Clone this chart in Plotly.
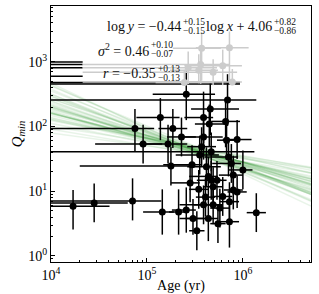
import numpy as np
import plotly.graph_objects as go

# ---- black data points (log10 age, log10 Qmin, errors in dex) ----
bx = [4.23, 4.85, 5.16, 5.33, 5.41, 5.48, 5.52, 5.64, 5.74, 5.86, 6.14, 5.25, 5.47, 5.45, 5.55,
      5.54, 5.61, 5.69, 5.67, 5.76, 5.79, 5.94, 6.00, 5.86, 5.90, 5.88, 5.85, 5.62, 5.64, 5.73,
      5.69, 5.90, 5.59, 4.875, 4.96, 5.14, 5.22, 5.27, 5.36, 5.41, 5.59, 5.65, 5.84, 5.82, 5.94,
      5.83, 5.66, 5.59, 5.67, 5.57, 4.45]
by = [0.77, 0.85, 0.68, 0.68, 0.71, 0.58, 0.39, 0.58, 0.50, 0.53, 0.67, 1.39, 1.41, 1.13, 1.56,
      1.03, 0.91, 0.79, 1.17, 0.74, 0.92, 0.99, 1.33, 0.84, 1.25, 1.43, 1.53, 1.38, 1.23, 1.17,
      1.07, 1.02, 0.79, 1.97, 1.73, 2.14, 1.73, 1.97, 1.84, 2.50, 1.84, 2.04, 2.41, 2.08, 1.80,
      1.79, 2.27, 2.14, 1.61, 1.69, 0.82]
bxm = [0.60, 0.90, 0.20, 0.10, 0.15, 0.08, 0.08, 0.30, 0.08, 0.10, 0.10, 0.95, 0.30, 0.20, 0.25,
       0.10, 0.10, 0.20, 0.15, 0.10, 0.10, 0.10, 0.15, 0.10, 0.15, 0.20, 0.25, 0.20, 0.20, 0.10,
       0.10, 0.10, 0.25, 0.90, 0.50, 0.25, 0.30, 0.15, 0.15, 0.35, 0.20, 0.15, 2.00, 0.15, 0.15,
       0.10, 0.20, 0.20, 2.00, 0.15, 0.70]
bxp = [0.38, 0.30, 0.12, 0.10, 0.10, 0.12, 0.08, 0.10, 0.08, 0.10, 0.10, 0.20, 0.10, 0.10, 0.20,
       0.10, 0.10, 0.10, 0.10, 0.10, 0.10, 0.10, 0.10, 0.10, 0.10, 0.10, 0.10, 0.15, 0.10, 0.10,
       0.10, 0.10, 0.20, 0.20, 0.20, 0.20, 0.20, 0.15, 0.15, 0.30, 0.20, 0.20, 0.30, 0.15, 0.15,
       0.10, 0.30, 0.10, 0.45, 0.15, 0.35]
bym = [0.36, 0.30, 0.35, 0.35, 0.35, 0.25, 0.30, 0.35, 0.30, 0.40, 0.30, 0.30, 0.30, 0.30, 0.30,
       0.30, 0.30, 0.30, 0.30, 0.30, 0.30, 0.25, 0.30, 0.30, 0.30, 0.30, 0.30, 0.30, 0.30, 0.30,
       0.30, 0.30, 0.30, 0.35, 0.30, 0.35, 0.30, 0.30, 0.30, 0.40, 0.35, 0.35, 0.40, 0.40, 0.30,
       0.30, 0.40, 0.40, 0.30, 0.30, 0.30]
byp = [0.25, 0.35, 0.35, 0.35, 0.35, 0.30, 0.30, 0.35, 0.30, 0.40, 0.30, 0.30, 0.30, 0.30, 0.30,
       0.30, 0.30, 0.30, 0.30, 0.30, 0.30, 0.25, 0.30, 0.30, 0.30, 0.30, 0.30, 0.30, 0.30, 0.30,
       0.30, 0.30, 0.30, 0.30, 0.30, 0.30, 0.30, 0.30, 0.30, 0.35, 0.30, 0.30, 0.40, 0.30, 0.30,
       0.30, 0.40, 0.40, 0.30, 0.30, 0.30]

# ---- grey (limit) points ----
gx = [5.57, 5.86, 5.56, 5.43, 5.69, 5.79, 5.89, 5.39, 5.54]
gy = [3.21, 3.22, 2.96, 2.91, 2.84, 2.94, 2.69, 2.68, 2.87]
gxm = [0.30, 0.35, 1.23, 1.10, 1.36, 0.40, 1.56, 0.30, 0.30]
gxp = [0.20, 0.20, 0.30, 0.30, 0.25, 0.20, 0.10, 0.30, 0.20]
gym = [0.50, 0.50, 0.30, 0.25, 0.20, 0.30, 0.05, 0.05, 0.20]
gyp = [0.25, 0.25, 0.25, 0.25, 0.20, 0.25, 0.20, 0.20, 0.25]

# ---- black bars extending to the left edge behind the grey points ----
kx = [4.33, 4.33, 4.33, 4.33, 5.97, 5.97]
ky = [3.00, 2.96, 2.91, 2.78, 2.68, 2.66]
kxm = [1.0, 1.0, 1.0, 1.0, 2.5, 2.5]

# ---- posterior samples of the regression: log y = a log x + b ----
slopes = [-0.44, -0.30, -0.58, -0.39, -0.51, -0.25, -0.62, -0.47, -0.35, -0.41,
          -0.53, -0.29, -0.70, -0.44, -0.37, -0.49, -0.20, -0.56, -0.42, -0.33,
          -0.66, -0.45, -0.38, -0.52, -0.27, -0.60, -0.43, -0.48, -0.31, -0.55,
          -0.40, -0.46, -0.36, -0.50, -0.23, -0.64, -0.42, -0.34, -0.57, -0.45]
intercepts = [4.06, 3.25, 4.87, 3.77, 4.47, 2.96, 5.11, 4.22, 3.54, 3.91,
              4.51, 3.27, 5.47, 3.98, 3.68, 4.39, 2.70, 4.71, 3.97, 3.43,
              5.28, 4.05, 3.73, 4.48, 3.17, 4.90, 4.00, 4.23, 3.37, 4.67,
              3.81, 4.20, 3.61, 4.33, 2.92, 5.14, 3.91, 3.56, 4.78, 4.11]
xfit = [4.0, 6.71]

# ---- fit-result text pieces: (main text, superscript, subscript) ----
main_texts = ["log\u2009<i>y</i> = −0.44", "log\u2009<i>x</i> + 4.06",
              "<i>σ</i><sup>2</sup> = 0.46", "<i>r</i> = −0.35"]
sup_texts = ["+0.15", "+0.82", "+0.10", "+0.13"]
sub_texts = ["−0.15", "−0.86", "−0.07", "−0.13"]
# pixel anchors: (x end of main text, y centre of main, y sup, y sub)
anchors = [(182, 26, 22, 31), (273, 26, 22, 31),
           (150, 50, 45, 54), (157, 73, 69, 78)]

FONT = "Liberation Serif"
W, H = 319, 294
ML, MR, MT, MB = 51, 8, 6, 32
PW, PH = W - ML - MR, H - MT - MB


def px_x(p):
    return (p - ML) / PW


def px_y(p):
    return (H - MB - p) / PH


def lin(v):
    return 10.0 ** np.asarray(v, dtype=float)


fig = go.Figure()

for a, b in zip(slopes, intercepts):
    xx = np.asarray(xfit)
    fig.add_trace(go.Scatter(x=lin(xx), y=lin(a * xx + b), mode="lines",
                             line=dict(color="rgba(0,128,0,0.09)", width=1.5),
                             hoverinfo="skip", showlegend=False))

kxa, kya = lin(kx), lin(ky)
fig.add_trace(go.Scatter(
    x=kxa, y=kya, mode="markers", marker=dict(size=2, color="rgba(0,0,0,0)"),
    error_x=dict(type="data", symmetric=False, array=[0.0] * len(kx),
                 arrayminus=kxa - lin(np.array(kx) - np.array(kxm)),
                 color="black", thickness=1.5, width=0),
    showlegend=False, hoverinfo="skip"))

bxa, bya = lin(bx), lin(by)
fig.add_trace(go.Scatter(
    x=bxa, y=bya, mode="markers", marker=dict(size=7, color="black"),
    error_x=dict(type="data", symmetric=False,
                 array=lin(np.array(bx) + np.array(bxp)) - bxa,
                 arrayminus=bxa - lin(np.array(bx) - np.array(bxm)),
                 color="black", thickness=1.5, width=0),
    error_y=dict(type="data", symmetric=False,
                 array=lin(np.array(by) + np.array(byp)) - bya,
                 arrayminus=bya - lin(np.array(by) - np.array(bym)),
                 color="black", thickness=1.5, width=0),
    showlegend=False))

gxa, gya = lin(gx), lin(gy)
fig.add_trace(go.Scatter(
    x=gxa, y=gya, mode="markers", marker=dict(size=7, color="#cccccc"),
    error_x=dict(type="data", symmetric=False,
                 array=lin(np.array(gx) + np.array(gxp)) - gxa,
                 arrayminus=gxa - lin(np.array(gx) - np.array(gxm)),
                 color="#cccccc", thickness=1.5, width=0),
    error_y=dict(type="data", symmetric=False,
                 array=lin(np.array(gy) + np.array(gyp)) - gya,
                 arrayminus=gya - lin(np.array(gy) - np.array(gym)),
                 color="#cccccc", thickness=1.5, width=0),
    showlegend=False))

xmaj = [1e4, 1e5, 1e6]
ymaj = [1e0, 1e1, 1e2, 1e3]
xmin = [m * 10.0 ** d for d in range(4, 7) for m in range(2, 10)]
ymin = [m * 10.0 ** d for d in range(-1, 4) for m in range(2, 10)]

axis_common = dict(type="log", showgrid=False, zeroline=False, showline=True,
                   linecolor="black", linewidth=1, mirror=True, ticks="inside",
                   ticklen=4, tickcolor="black", automargin=False,
                   tickfont=dict(family=FONT, size=14, color="black"))

fig.update_xaxes(range=[4.0, 6.71], tickmode="array", tickvals=xmaj,
                 ticktext=["10<sup>4</sup>", "10<sup>5</sup>", "10<sup>6</sup>"],
                 minor=dict(tickvals=xmin, ticks="inside", ticklen=2, tickcolor="black"),
                 title=dict(text="Age (yr)", font=dict(family=FONT, size=14, color="black"), standoff=2),
                 **axis_common)
fig.update_yaxes(range=[-0.093, 3.864], tickmode="array", tickvals=ymaj,
                 ticktext=["10<sup>0</sup>", "10<sup>1</sup>", "10<sup>2</sup>", "10<sup>3</sup>"],
                 minor=dict(tickvals=ymin, ticks="inside", ticklen=2, tickcolor="black"),
                 title=dict(text="<i>Q</i><sub><i>min</i></sub>", font=dict(family=FONT, size=15, color="black"), standoff=2),
                 **axis_common)

for t, sp, sb, (xe, ym, ysup, ysub) in zip(main_texts, sup_texts, sub_texts, anchors):
    fig.add_annotation(text=t, xref="paper", yref="paper", x=px_x(xe), y=px_y(ym),
                       xanchor="right", yanchor="middle", showarrow=False, borderpad=0,
                       font=dict(family=FONT, size=14, color="#111111"))
    fig.add_annotation(text=sp, xref="paper", yref="paper", x=px_x(xe), y=px_y(ysup),
                       xanchor="left", yanchor="middle", showarrow=False, borderpad=0,
                       font=dict(family=FONT, size=9.5, color="#111111"))
    fig.add_annotation(text=sb, xref="paper", yref="paper", x=px_x(xe), y=px_y(ysub),
                       xanchor="left", yanchor="middle", showarrow=False, borderpad=0,
                       font=dict(family=FONT, size=9.5, color="#111111"))

fig.update_layout(width=W, height=H, margin=dict(l=ML, r=MR, t=MT, b=MB),
                  paper_bgcolor="white", plot_bgcolor="white", showlegend=False)

fig.write_html("out.html", config={"displayModeBar": False},
               post_script="document.body.style.margin='0';")
